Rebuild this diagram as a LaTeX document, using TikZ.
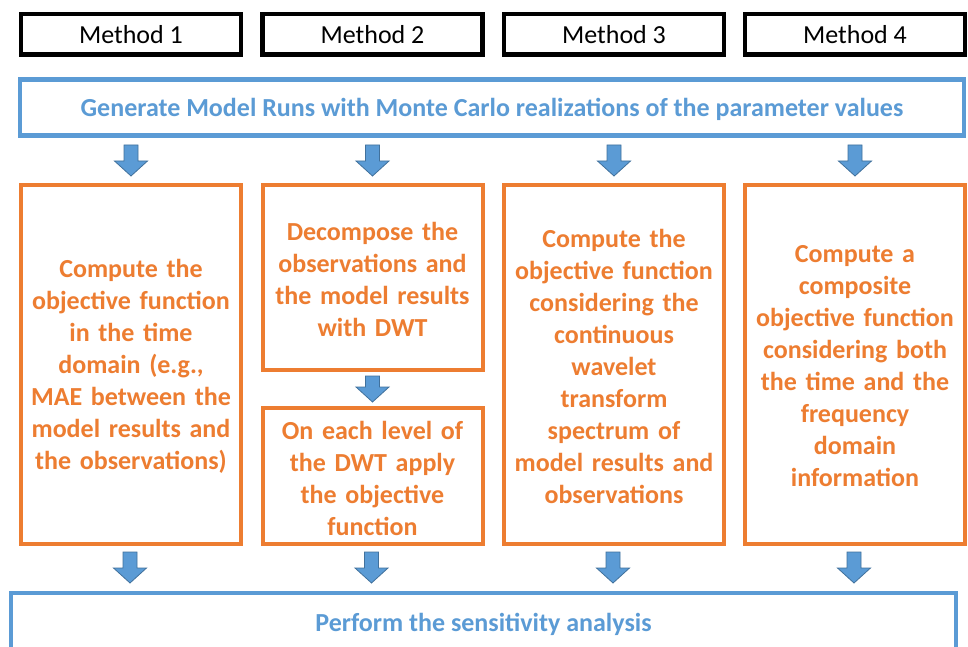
\documentclass[tikz,border=0pt]{standalone}
\usepackage{fontspec}
\setmainfont{Carlito}
\usetikzlibrary{calc}
\definecolor{accorange}{HTML}{ED7D31}
\definecolor{accblue}{HTML}{5B9BD5}
\definecolor{arrowedge}{HTML}{41719C}
\tikzset{
  basebox/.style={rectangle, outer sep=0pt, inner sep=2pt, align=center,
    font=\fontsize{26}{32}\selectfont},
  methodbox/.style={basebox, draw=black, line width=4.5pt,
    minimum width=220pt, minimum height=40.5pt},
  bluebox/.style={basebox, draw=accblue, line width=4.5pt},
  bluetext/.style={text=accblue, align=center, yshift=-2pt,
    font=\fontsize{26}{32}\selectfont\bfseries},
  orangebox/.style={basebox, draw=accorange, line width=4pt,
    minimum width=220pt},
  orangetext/.style={text=accorange, align=center, text width=212pt, yshift=-2pt,
    font=\fontsize{26}{32}\selectfont\bfseries},
  blockarrow/.style={fill=accblue, draw=arrowedge, line width=0.8pt, line join=miter}
}
% block arrow pointing down: #1 = top of shaft, #2 = tip
\newcommand\downblock[2]{%
  \path[blockarrow] let \p1=(#1), \p2=(#2) in
    (\x1-7pt,\y1) -- (\x1+7pt,\y1) -- (\x1+7pt,\y2+15pt) -- (\x1+16.5pt,\y2+15pt)
    -- (\x1,\y2) -- (\x1-16.5pt,\y2+15pt) -- (\x1-7pt,\y2+15pt) -- cycle;}
\begin{document}
\begin{tikzpicture}[x=1pt,y=-1pt]
\clip (0,0) rectangle (968,647);
\fill[white] (0,0) rectangle (968,647);

% method headers
\node[methodbox] (m1) at (131,34.25) {Method 1};
\node[methodbox] (m2) at (372.5,34.25) {Method 2};
\node[methodbox] (m3) at (614,34.25) {Method 3};
\node[methodbox] (m4) at (855,34.25) {Method 4};

% common first step
\node[bluebox, minimum width=944pt, minimum height=56pt,
  label={[bluetext]center:{Generate Model Runs with Monte Carlo realizations of the parameter values}}]
  (gen) at (492,107.5) {};

% method-specific steps
\node[orangebox, minimum height=359pt,
  label={[orangetext]center:{Compute the\\objective function\\in the time\\domain (e.g.,\\MAE between the\\model results and\\the observations)}}]
  (o1) at (131,364.5) {};
\node[orangebox, minimum height=185pt,
  label={[orangetext]center:{Decompose the\\observations and\\the model results\\with DWT}}]
  (o2a) at (372.5,277.5) {};
\node[orangebox, minimum height=136pt,
  label={[orangetext]center:{On each level of\\the DWT apply\\the objective\\function}}]
  (o2b) at (372.5,476) {};
\node[orangebox, minimum height=359pt,
  label={[orangetext]center:{Compute the\\objective function\\considering the\\continuous\\wavelet\\transform\\spectrum of\\model results and\\observations}}]
  (o3) at (614,364.5) {};
\node[orangebox, minimum height=359pt,
  label={[orangetext]center:{Compute a\\composite\\objective function\\considering both\\the time and the\\frequency\\domain\\information}}]
  (o4) at (855,364.5) {};

% common last step
\node[bluebox, minimum width=945pt, minimum height=58pt,
  label={[bluetext]center:{Perform the sensitivity analysis}}]
  (perf) at (483.5,622) {};

% block arrows
\foreach \o in {o1,o3,o4}{
  \downblock{$(gen.south -| \o.north)+(0,9.5)$}{$(\o.north)+(0,-9)$}
  \downblock{$(\o.south)+(-1,8)$}{$(perf.north -| \o.south)+(-1,-10)$}
}
\downblock{$(gen.south -| o2a.north)+(0,9.5)$}{$(o2a.north)+(0,-9)$}
\downblock{$(o2a.south)+(0,6)$}{$(o2b.north)+(0,-6)$}
\downblock{$(o2b.south)+(-1,8)$}{$(perf.north -| o2b.south)+(-1,-10)$}
\end{tikzpicture}
\end{document}
